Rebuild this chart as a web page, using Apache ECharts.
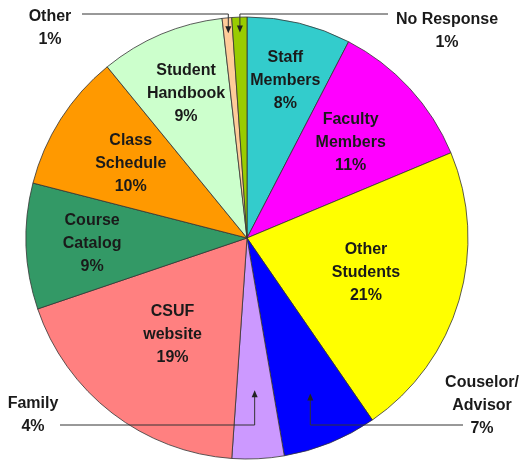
<!DOCTYPE html>
<html>
<head>
<meta charset="utf-8">
<script src="https://cdn.jsdelivr.net/npm/echarts@6/dist/echarts.min.js"></script>
<style>
html, body { margin: 0; padding: 0; background: #fff; }
#chart { width: 525px; height: 467px; }
</style>
</head>
<body>
<div id="chart"></div>
<script>
// slices clockwise from 12 o'clock
const categories = ['Staff\nMembers', 'Faculty\nMembers', 'Other\nStudents', 'Couselor/\nAdvisor', 'Family', 'CSUF\nwebsite', 'Course\nCatalog', 'Class\nSchedule', 'Student\nHandbook', 'Other', 'No Response']
const shares = [7.6, 11.1, 21.7, 6.9, 3.8, 18.7, 9.2, 10.1, 9.1, 0.7, 1.1]
const pctLabels = ['8%', '11%', '21%', '7%', '4%', '19%', '9%', '10%', '9%', '1%', '1%']

const colors = ['#33cccc', '#ff00ff', '#ffff00', '#0000ff', '#cc99ff', '#ff8080', '#339966', '#ff9900', '#ccffcc', '#ffcc99', '#99cc00']
const labelFont = 'bold 16px "Liberation Sans", Arial, sans-serif'
const center = [247, 238]
const radius = 221

// inside labels: distance of label centre from pie centre
const insideLabels = [
  { idx: 0, r: 162 },
  { idx: 1, r: 141 },
  { idx: 2, r: 124 },
  { idx: 5, r: 122 },
  { idx: 6, r: 155 },
  { idx: 7, r: 138 },
  { idx: 8, r: 157 }
]
// outside labels with arrows pointing into the slice
const callouts = [
  { idx: 9, frac: 0.93, lineY: 14, lineEndX: 82, textX: 50, textY: 5 },
  { idx: 10, frac: 0.93, lineY: 14, lineEndX: 388, textX: 447, textY: 8 },
  { idx: 4, frac: 0.69, lineY: 425, lineEndX: 60, textX: 33, textY: 392 },
  { idx: 3, frac: 0.76, lineY: 425, lineEndX: 463, textX: 482, textY: 371 }
]

const chart = echarts.init(document.getElementById('chart'))

chart.setOption({
  backgroundColor: '#fff',
  series: [{
    type: 'pie',
    center,
    radius,
    startAngle: 90,
    clockwise: true,
    silent: true,
    animation: false,
    label: { show: false },
    labelLine: { show: false },
    itemStyle: { borderColor: '#333', borderWidth: 0.8 },
    data: categories.map((name, i) => ({ name, value: shares[i], itemStyle: { color: colors[i] } }))
  }]
})

// slice geometry from the pie layout
function sliceMid (i) {
  try {
    const lay = chart.getModel().getSeriesByIndex(0).getData().getItemLayout(i)
    return { cx: lay.cx, cy: lay.cy, a: (lay.startAngle + lay.endAngle) / 2, r: lay.r }
  } catch (e) {
    const total = shares.reduce((s, v) => s + v, 0)
    let before = 0
    for (let k = 0; k < i; k++) before += shares[k]
    const a = -Math.PI / 2 + (before + shares[i] / 2) / total * Math.PI * 2
    return { cx: center[0], cy: center[1], a, r: radius }
  }
}

const graphic = []

insideLabels.forEach(l => {
  const m = sliceMid(l.idx)
  graphic.push({
    type: 'text',
    silent: true,
    z: 100,
    x: m.cx + l.r * Math.cos(m.a),
    y: m.cy + l.r * Math.sin(m.a),
    style: {
      text: categories[l.idx] + '\n' + pctLabels[l.idx],
      font: labelFont,
      fill: '#1a1a1a',
      lineHeight: 23,
      align: 'center',
      verticalAlign: 'middle'
    }
  })
})

callouts.forEach(c => {
  const m = sliceMid(c.idx)
  const tx = m.cx + m.r * c.frac * Math.cos(m.a)
  const ty = m.cy + m.r * c.frac * Math.sin(m.a)
  const s = ty > c.lineY ? 1 : -1
  graphic.push({
    type: 'polyline',
    silent: true,
    z: 100,
    shape: { points: [[c.lineEndX, c.lineY], [tx, c.lineY], [tx, ty - s * 5]] },
    style: { stroke: '#333', lineWidth: 1, fill: null }
  })
  graphic.push({
    type: 'polygon',
    silent: true,
    z: 100,
    shape: { points: [[tx, ty], [tx - 3, ty - s * 7], [tx + 3, ty - s * 7]] },
    style: { fill: '#222' }
  })
  graphic.push({
    type: 'text',
    silent: true,
    z: 100,
    x: c.textX,
    y: c.textY,
    style: {
      text: categories[c.idx] + '\n' + pctLabels[c.idx],
      font: labelFont,
      fill: '#1a1a1a',
      lineHeight: 23,
      align: 'center',
      verticalAlign: 'top'
    }
  })
})

chart.setOption({ graphic })
</script>
</body>
</html>
